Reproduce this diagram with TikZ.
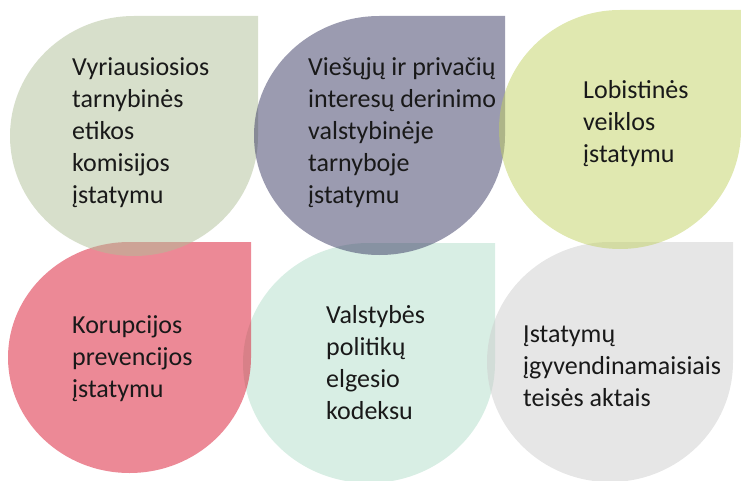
\documentclass[tikz,border=0pt]{standalone}
\usepackage{fontspec}
\setmainfont{Carlito}
\definecolor{cgreen}{RGB}{175,191,151}
\definecolor{cpurple}{RGB}{55,55,97}
\definecolor{cyellow}{RGB}{193,209,97}
\definecolor{cpink}{RGB}{217,19,45}
\definecolor{cmint}{RGB}{177,221,201}
\definecolor{cgray}{RGB}{205,205,205}
\definecolor{txt}{RGB}{25,25,25}
\newcommand\tdrop[5]{%
  \fill[drop,fill=#1] ({(#2+#4)/2},#3) -- (#4,#3) -- (#4,{(#3+#5)/2})
    arc[start angle=0,end angle=270,x radius={(#4-#2)/2},y radius={(#5-#3)/2}] -- cycle;}
\begin{document}
\begin{tikzpicture}[x=1pt,y=-1pt,
  drop/.style={fill opacity=0.5},
  lbl/.style={anchor=base west,align=left,inner sep=0pt,text=txt,
    font=\fontsize{26}{32}\selectfont}]
\useasboundingbox (0,0) rectangle (741,481);
% bottom row
\tdrop{cmint}{243}{243}{495}{483}
\tdrop{cgray}{487}{242}{733}{482}
\tdrop{cpink}{8}{242}{251}{473}
% top row
\tdrop{cgreen}{10}{16}{258}{256}
\tdrop{cpurple}{254}{16}{505}{255}
\tdrop{cyellow}{499}{10}{741}{249}
% texts (base anchor = last line baseline)
\node[lbl] (t1) at (72,204) {Vyriausiosios\\tarnybinės\\etikos\\komisijos\\įstatymu};
\node[lbl] (t2) at (308,204) {Viešųjų ir privačių\\interesų derinimo\\valstybinėje\\tarnyboje\\įstatymu};
\node[lbl] (t3) at (583,163) {Lobistinės\\veiklos\\įstatymu};
\node[lbl] (t4) at (72,397) {Korupcijos\\prevencijos\\įstatymu};
\node[lbl] (t5) at (326,419) {Valstybės\\politikų\\elgesio\\kodeksu};
\node[lbl] (t6) at (523,406) {Įstatymų\\įgyvendinamaisiais\\teisės aktais};
\end{tikzpicture}
\end{document}
